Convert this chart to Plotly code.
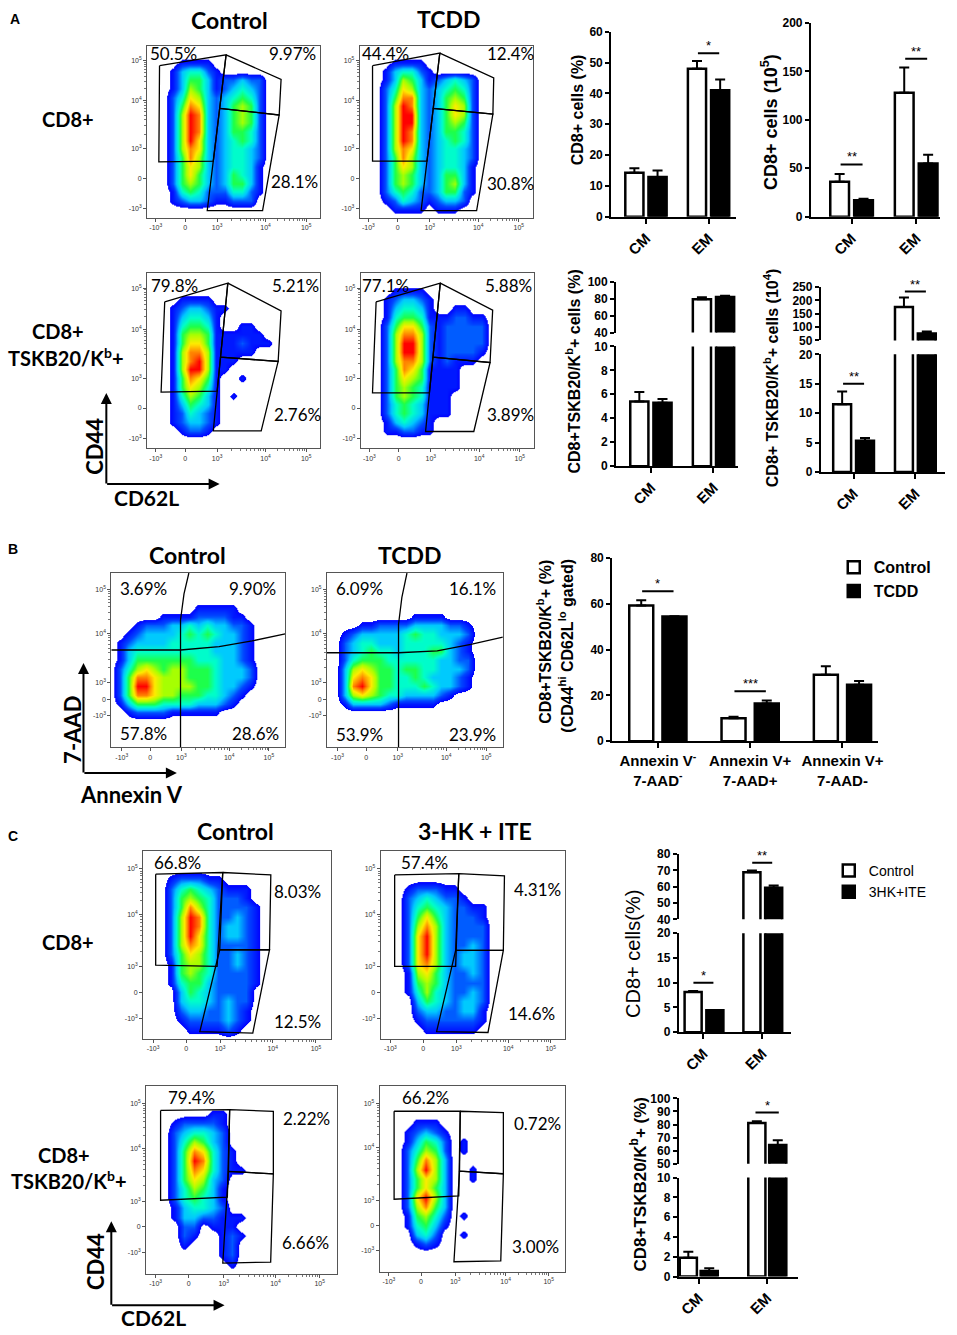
import math
import plotly.graph_objects as go

W, H = 957, 1335
FLOW_FONT = 'Lato'
BAR_FONT = 'Liberation Sans'

# ---------------- flow cytometry: gate percentages ----------------
A_CTRL_CD8_PCT = ['50.5%', '9.97%', '28.1%']
A_TCDD_CD8_PCT = ['44.4%', '12.4%', '30.8%']
A_CTRL_TSKB_PCT = ['79.8%', '5.21%', '2.76%']
A_TCDD_TSKB_PCT = ['77.1%', '5.88%', '3.89%']
B_CTRL_PCT = ['3.69%', '9.90%', '57.8%', '28.6%']
B_TCDD_PCT = ['6.09%', '16.1%', '53.9%', '23.9%']
C_CTRL_CD8_PCT = ['66.8%', '8.03%', '12.5%']
C_HKITE_CD8_PCT = ['57.4%', '4.31%', '14.6%']
C_CTRL_TSKB_PCT = ['79.4%', '2.22%', '6.66%']
C_HKITE_TSKB_PCT = ['66.2%', '0.72%', '3.00%']

FLOW_TICKS = ['-10<sup>3</sup>', '0', '10<sup>3</sup>', '10<sup>4</sup>', '10<sup>5</sup>']
GRID = list(range(0, 101, 5))

# density maps on the 0..100 display grid (step 5), rows from top to bottom, 0 empty .. 9 peak
A1_DENSITY = [
    "000000000000000000000",
    "000000000000000000000",
    "000011110000000000000",
    "000134421000000000000",
    "000135531223220000000",
    "000136531234320000000",
    "000247632345420000000",
    "000258732356520000000",
    "000269832356520000000",
    "000269832356520000000",
    "000269832355420000000",
    "000269732345420000000",
    "000268732344320000000",
    "000258632344320000000",
    "000257632344310000000",
    "000257532354310000000",
    "000256532355310000000",
    "000145422244210000000",
    "000123321122200000000",
    "000000000000000000000",
    "000000000000000000000",
]
A2_DENSITY = [
    "000000000000000000000",
    "000000000000000000000",
    "000011110000000000000",
    "000134421000000000000",
    "000136531234320000000",
    "000247632345420000000",
    "000258832356520000000",
    "000269832357620000000",
    "000269932357620000000",
    "000269932356520000000",
    "000269832355420000000",
    "000269832345420000000",
    "000268732344320000000",
    "000258632344320000000",
    "000257632344310000000",
    "000256532355310000000",
    "000256532356310000000",
    "000245422355210000000",
    "000124321233200000000",
    "000011110111000000000",
    "000000000000000000000",
]
A3_DENSITY = [
    "000000000000000000000",
    "000000000000000000000",
    "000000000000000000000",
    "000011110000000000000",
    "000123321100000000000",
    "000134431000000000000",
    "000145541001100000000",
    "000156651111110000000",
    "000157751112111000000",
    "000168861111100000000",
    "000168961110000000000",
    "000169961100000000000",
    "000158751001000000000",
    "000157641000000000000",
    "000146531010000000000",
    "000135431000000000000",
    "000124321000000000000",
    "000123321000000000000",
    "000012210000000000000",
    "000000000000000000000",
    "000000000000000000000",
]
A4_DENSITY = [
    "000000000000000000000",
    "000000000000000000000",
    "000011110000000000000",
    "000123321000000000000",
    "000134431001100000000",
    "000145541112211000000",
    "000257752122222000000",
    "000268862122222000000",
    "000269962122222000000",
    "000269962122221000000",
    "000268862121110000000",
    "000258751111000000000",
    "000257651111000000000",
    "000256541111000000000",
    "000256541110000000000",
    "000245431110000000000",
    "000245431110000000000",
    "000134321000000000000",
    "000112211000000000000",
    "000000000000000000000",
    "000000000000000000000",
]
B1_DENSITY = [
    "000000000000000000000",
    "000000000000000000000",
    "000000000000000000000",
    "000000000000000000000",
    "000000000011111000000",
    "000000111122221100000",
    "000122233434332210000",
    "001233334545433210000",
    "012333344444333210000",
    "013444444444333210000",
    "013555555544433210000",
    "024676566555433320000",
    "025887666555433320000",
    "025997666655433210000",
    "025887665554432100000",
    "013555444433321000000",
    "001222211111100000000",
    "000000000000000000000",
    "000000000000000000000",
    "000000000000000000000",
    "000000000000000000000",
]
B2_DENSITY = [
    "000000000000000000000",
    "000000000000000000000",
    "000000000000000000000",
    "000000000000000000000",
    "000000000000000000000",
    "000000000011110000000",
    "000011222233332210000",
    "001233333454433320000",
    "002344333444443210000",
    "002345443444553210000",
    "002455544444433220000",
    "003676554554433320000",
    "003787554454333210000",
    "003897554445433210000",
    "003676544333321000000",
    "001333321111100000000",
    "000000000000000000000",
    "000000000000000000000",
    "000000000000000000000",
    "000000000000000000000",
    "000000000000000000000",
]
C1_DENSITY = [
    "000000000000000000000",
    "000000000000000000000",
    "000000000000000000000",
    "000122211000000000000",
    "000245432111000000000",
    "000256542221000000000",
    "000258642222100000000",
    "000269842232100000000",
    "000269842332100000000",
    "000269742332100000000",
    "000268742222100000000",
    "000257642232100000000",
    "000156642232100000000",
    "000156542222100000000",
    "000145532222100000000",
    "000035432222000000000",
    "000034432322000000000",
    "000023322321000000000",
    "000012222321000000000",
    "000001111210000000000",
    "000000000000000000000",
]
C2_DENSITY = [
    "000000000000000000000",
    "000000000000000000000",
    "000000000000000000000",
    "000000000000000000000",
    "000122211000000000000",
    "000234322100000000000",
    "000245432211000000000",
    "000257532221000000000",
    "000268632222000000000",
    "000279632222000000000",
    "000279632232000000000",
    "000279632332000000000",
    "000278632332000000000",
    "000167532232000000000",
    "000156532222000000000",
    "000146432232000000000",
    "000035432332000000000",
    "000023322331000000000",
    "000012222221000000000",
    "000001111110000000000",
    "000000000000000000000",
]
C3_DENSITY = [
    "000000000000000000000",
    "000000000000000000000",
    "000000000000000000000",
    "000000011000000000000",
    "000122221000000000000",
    "000234432000000000000",
    "000246532000000000000",
    "000258742100000000000",
    "000259842100000000000",
    "000258742110000000000",
    "000257632000000000000",
    "000246531000000000000",
    "000245431000000000000",
    "000134432000000000000",
    "000133221110000000000",
    "000022011100000000000",
    "000021001210000000000",
    "000010001200000000000",
    "000000001200000000000",
    "000000000100000000000",
    "000000000000000000000",
]
C4_DENSITY = [
    "000000000000000000000",
    "000000000000000000000",
    "000000000000000000000",
    "000000000000000000000",
    "000011100000000000000",
    "000123210000000000000",
    "000135420100000000000",
    "000246520100000000000",
    "000258630000000000000",
    "000269630010000000000",
    "000257630010000000000",
    "000257530000000000000",
    "000279630000000000000",
    "000268530000000000000",
    "000156420100000000000",
    "000145310000000000000",
    "000034200100000000000",
    "000012100000000000000",
    "000000000000000000000",
    "000000000000000000000",
    "000000000000000000000",
]

# gates in display coordinates
A1_GATES = [
    [(7.2, 88.3), (45.7, 94.6), (38.3, 32.9), (6.8, 32.5)],
    [(45.7, 94.6), (77.5, 80.3), (76.4, 59.7), (42.0, 63.5)],
    [(42.0, 63.5), (76.4, 59.7), (66.8, 4.2), (34.8, 4.2)],
]
A2_GATES = [
    [(7.4, 88.3), (46.3, 95.6), (38.9, 32.9), (7.4, 32.9)],
    [(46.3, 95.6), (77.5, 81.3), (77.0, 60.2), (42.5, 63.5)],
    [(42.5, 63.5), (77.0, 60.2), (67.6, 4.2), (35.5, 4.2)],
]
A3_GATES = [
    [(10.2, 83.6), (46.7, 94.3), (40.5, 32.6), (8.1, 32.1)],
    [(46.7, 94.3), (77.5, 78.5), (75.8, 49.6), (42.5, 52.1)],
    [(42.5, 52.1), (75.8, 49.6), (66.0, 10.0), (38.3, 10.0)],
]
A4_GATES = [
    [(8.9, 83.6), (46.0, 94.3), (39.7, 31.7), (6.8, 31.7)],
    [(46.0, 94.3), (76.3, 78.9), (74.8, 49.0), (41.8, 52.1)],
    [(41.8, 52.1), (74.8, 49.0), (65.4, 9.6), (37.5, 9.6)],
]
B1_GATES = [
    [(39.8, 0), (39.8, 73), (41.8, 88), (44.6, 100)],
    [(0, 55.8), (39.8, 55.8), (62, 57.7), (81, 61), (100, 65)],
]
B2_GATES = [
    [(40.7, 0), (40.7, 70.6), (42.6, 86), (45.5, 100)],
    [(0, 54.2), (40.7, 54.2), (62.7, 55.3), (81.8, 59), (100, 63.2)],
]
C1_GATES = [
    [(6.7, 87.7), (42.4, 88.6), (39.4, 38.7), (6.7, 39.3)],
    [(42.4, 88.6), (68.0, 87.3), (67.3, 47.5), (40.8, 47.5)],
    [(40.8, 47.5), (67.3, 47.5), (58.4, 3.2), (30.2, 4.0)],
]
C2_GATES = [
    [(7.6, 87.3), (42.3, 88.0), (40.6, 38.7), (7.6, 38.7)],
    [(42.3, 88.0), (67.0, 86.8), (66.4, 47.2), (40.6, 47.2)],
    [(40.6, 47.2), (66.4, 47.2), (58.1, 3.5), (30.3, 4.0)],
]
C3_GATES = [
    [(7.6, 86.8), (43.8, 87.2), (42.6, 40.7), (7.6, 39.0)],
    [(43.8, 87.2), (66.7, 86.3), (66.7, 53.0), (43.2, 54.4)],
    [(43.2, 54.4), (66.7, 53.0), (65.3, 6.1), (40.2, 5.6)],
]
C4_GATES = [
    [(7.8, 86.2), (43.4, 86.2), (42.6, 40.7), (7.8, 38.9)],
    [(43.4, 86.2), (66.6, 85.5), (66.6, 52.6), (43.0, 54.0)],
    [(43.0, 54.0), (66.6, 52.6), (65.2, 5.8), (40.0, 5.3)],
]

# ---------------- bar charts (mean, SEM) ----------------
MEM_CATS = ['CM', 'EM']
A_CD8_PCT_CTRL, A_CD8_PCT_CTRL_SEM = [14.3, 48.0], [1.4, 2.5]
A_CD8_PCT_TCDD, A_CD8_PCT_TCDD_SEM = [12.9, 41.0], [2.1, 3.5]
A_CD8_PCT_SIG = [(1, 53.0, '*')]

A_CD8_NUM_CTRL, A_CD8_NUM_CTRL_SEM = [36, 128], [8, 26]
A_CD8_NUM_TCDD, A_CD8_NUM_TCDD_SEM = [17, 55], [1.5, 9]
A_CD8_NUM_SIG = [(0, 54.0, '**'), (1, 163.0, '**')]

A_TSKB_PCT_CTRL, A_TSKB_PCT_CTRL_SEM = [5.4, 79.5], [0.8, 2.5]
A_TSKB_PCT_TCDD, A_TSKB_PCT_TCDD_SEM = [5.3, 82.4], [0.3, 1.2]
A_TSKB_PCT_SIG = []

A_TSKB_NUM_CTRL, A_TSKB_NUM_CTRL_SEM = [11.5, 175], [2.2, 36]
A_TSKB_NUM_TCDD, A_TSKB_NUM_TCDD_SEM = [5.3, 76], [0.5, 8]
A_TSKB_NUM_SIG = [(0, 15.0, '**'), (1, 233.0, '**')]

APOP_CATS = ['Annexin V<sup>-</sup><br>7-AAD<sup>-</sup>', 'Annexin V+<br>7-AAD+', 'Annexin V+<br>7-AAD-']
B_CTRL, B_CTRL_SEM = [59.3, 10.0, 29.0], [2.3, 0.7, 3.8]
B_TCDD, B_TCDD_SEM = [54.5, 16.5, 24.7], [0.1, 1.3, 1.6]
B_SIG = [(0, 65.5, '*'), (1, 21.8, '***')]

C_CD8_CTRL, C_CD8_CTRL_SEM = [8.1, 68.9], [0.2, 1.0]
C_CD8_HKITE, C_CD8_HKITE_SEM = [4.4, 59.4], [0.05, 1.3]
C_CD8_SIG = [(0, 10.0, '*'), (1, 74.6, '**')]

C_TSKB_CTRL, C_TSKB_CTRL_SEM = [1.9, 81.2], [0.6, 1.4]
C_TSKB_HKITE, C_TSKB_HKITE_SEM = [0.55, 64.4], [0.3, 3.5]
C_TSKB_SIG = [(1, 89.2, '*')]

JET = [[0, 'white'], [0.065, 'white'], [0.0651, 'rgb(0,0,255)'], [0.2, 'rgb(0,70,255)'],
       [0.33, 'rgb(0,200,255)'], [0.45, 'rgb(0,255,200)'], [0.56, 'rgb(30,255,70)'],
       [0.67, 'rgb(170,255,0)'], [0.78, 'rgb(255,235,0)'], [0.89, 'rgb(255,130,0)'],
       [1, 'rgb(255,0,0)']]

fig = go.Figure()
axes = {}
notes = []


def key(n):
    return '' if n == 1 else str(n)


def dom_x(x0, x1):
    return [x0 / W, x1 / W]


def dom_y(y0, y1):
    return [1 - y1 / H, 1 - y0 / H]


def density(rows):
    rows = [r.ljust(21, '0')[:21] for r in rows]
    return [[int(c) for c in r] for r in rows[::-1]]


def decade_minors(ticks):
    # small log-style ticks between the 10^3, 10^4 and 10^5 marks
    out = []
    for a, b in ((ticks[2], ticks[3]), (ticks[3], ticks[4])):
        out += [a + (b - a) * math.log10(m) for m in range(2, 10)]
    return out


def flow_plot(n, frame, rows, gates, closed, pct, spots, xt, yt):
    k = key(n)
    x0, x1, y0, y1 = frame
    common = dict(range=[0, 100], showline=True, linecolor='#555', linewidth=1, mirror=True,
                  ticks='outside', ticklen=3, tickcolor='#555', ticktext=FLOW_TICKS,
                  tickfont=dict(family=BAR_FONT, size=7, color='#333'),
                  showgrid=False, zeroline=False, fixedrange=True)
    axes['xaxis' + k] = dict(common, domain=dom_x(x0, x1), anchor='y' + k, tickvals=xt,
                             minor=dict(tickvals=decade_minors(xt), ticklen=2, tickcolor='#777'))
    axes['yaxis' + k] = dict(common, domain=dom_y(y0, y1), anchor='x' + k, tickvals=yt,
                             minor=dict(tickvals=decade_minors(yt), ticklen=2, tickcolor='#777'))
    fig.add_trace(go.Heatmap(x=GRID, y=GRID, z=density(rows), zmin=0, zmax=9, colorscale=JET,
                             zsmooth='best', showscale=False, hoverinfo='skip',
                             xaxis='x' + k, yaxis='y' + k))
    for g in gates:
        pts = list(g) + ([g[0]] if closed else [])
        fig.add_trace(go.Scatter(x=[p[0] for p in pts], y=[p[1] for p in pts], mode='lines',
                                 line=dict(color='black', width=1.3), hoverinfo='skip',
                                 showlegend=False, xaxis='x' + k, yaxis='y' + k))
    for text, (sx, sy) in zip(pct, spots):
        notes.append(dict(text=text, x=sx, y=sy, xref='x%s domain' % k, yref='y%s domain' % k,
                          xanchor='center', yanchor='middle', showarrow=False,
                          font=dict(family=FLOW_FONT, size=17, color='black')))


def bar_chart(n0, xpx, segs, xrange, ticktext, tickangle, ctrl, ctrl_sem, trt, trt_sem, sigs,
              offs=(-0.33, 0.04, 0.29), legend=None, names=('Control', 'TCDD'), cat_size=15):
    xs = list(range(len(ctrl)))
    for i, (top, bot, yr, yt) in enumerate(segs):
        k = key(n0 + i)
        last = i == len(segs) - 1
        axes['xaxis' + k] = dict(domain=dom_x(*xpx), anchor='y' + k, range=xrange,
                                 showline=last, linecolor='black', linewidth=2, showgrid=False,
                                 zeroline=False, ticks='outside' if last else '', ticklen=5,
                                 tickwidth=2, tickcolor='black', tickvals=xs, ticktext=ticktext,
                                 tickangle=tickangle, showticklabels=last, fixedrange=True,
                                 tickfont=dict(family=BAR_FONT, size=cat_size, color='black',
                                               weight='bold'))
        axes['yaxis' + k] = dict(domain=dom_y(top, bot), anchor='x' + k, range=yr, tickvals=yt,
                                 showline=True, linecolor='black', linewidth=2, showgrid=False,
                                 zeroline=False, ticks='outside', ticklen=4, tickwidth=2,
                                 tickcolor='black', fixedrange=True,
                                 tickfont=dict(family=BAR_FONT, size=12, color='black',
                                               weight='bold'))
        series = ((ctrl, ctrl_sem, 'white', offs[0]), (trt, trt_sem, 'black', offs[1]))
        for j, (vals, sem, fill, off) in enumerate(series):
            fig.add_trace(go.Bar(
                x=xs, y=vals, offset=off, width=offs[2], name=names[j],
                marker=dict(color=fill, line=dict(color='black', width=2.5)),
                error_y=dict(type='data', array=sem, arrayminus=[0] * len(sem), symmetric=False,
                             color='black', thickness=2, width=5),
                showlegend=bool(legend) and last, legend=legend or 'legend', hoverinfo='skip',
                xaxis='x' + k, yaxis='y' + k))
        for gx, gy, star in sigs:
            if yr[0] <= gy <= yr[1]:
                fig.add_trace(go.Scatter(x=[gx - 0.17, gx + 0.17], y=[gy, gy], mode='lines',
                                         line=dict(color='black', width=2), showlegend=False,
                                         hoverinfo='skip', xaxis='x' + k, yaxis='y' + k))
                notes.append(dict(text=star, x=gx, y=gy, xref='x' + k, yref='y' + k,
                                  xanchor='center', yanchor='bottom', showarrow=False, yshift=-2,
                                  font=dict(family=BAR_FONT, size=13, color='black')))


def label(text, x, y, size, bold=True, family=FLOW_FONT, angle=0):
    notes.append(dict(text=text, x=x / W, y=1 - y / H, xref='paper', yref='paper',
                      showarrow=False, textangle=angle, xanchor='center', yanchor='middle',
                      font=dict(family=family, size=size, color='black',
                                weight='bold' if bold else 'normal')))


def arrow(x, y, ax, ay):
    notes.append(dict(x=x / W, y=1 - y / H, xref='paper', yref='paper', ax=ax, ay=ay, text='',
                      showarrow=True, arrowhead=2, arrowsize=1.1, arrowwidth=2,
                      arrowcolor='black'))


# ---------------- flow panels ----------------
AX = [5, 22, 40.5, 68.5, 92]
AY = [5.5, 23, 40, 68, 91.5]
flow_plot(1, (147, 321, 39, 213), A1_DENSITY, A1_GATES, True, A_CTRL_CD8_PCT,
          [(0.15, 0.955), (0.84, 0.955), (0.85, 0.21)], AX, AY)
flow_plot(2, (361, 535, 39, 213), A2_DENSITY, A2_GATES, True, A_TCDD_CD8_PCT,
          [(0.15, 0.955), (0.87, 0.955), (0.87, 0.20)], AX, AY)
flow_plot(3, (147, 321, 269, 446), A3_DENSITY, A3_GATES, True, A_CTRL_TSKB_PCT,
          [(0.16, 0.93), (0.86, 0.93), (0.87, 0.194)], AX, AY)
flow_plot(4, (362, 536, 269, 446), A4_DENSITY, A4_GATES, True, A_TCDD_TSKB_PCT,
          [(0.144, 0.93), (0.856, 0.93), (0.866, 0.194)], AX, AY)

BX = [6, 22.3, 40.3, 67.8, 90.6]
BY = [18, 27.5, 37, 65.5, 90.5]
flow_plot(5, (111, 286, 572, 748), B1_DENSITY, B1_GATES, False, B_CTRL_PCT,
          [(0.187, 0.91), (0.81, 0.91), (0.187, 0.076), (0.83, 0.076)], BX, BY)
flow_plot(6, (328, 505, 572, 748), B2_DENSITY, B2_GATES, False, B_TCDD_PCT,
          [(0.184, 0.91), (0.828, 0.91), (0.184, 0.075), (0.828, 0.075)], BX, BY)

CX1 = [5.3, 23, 41, 69, 92]
CY1 = [11, 24.6, 38.5, 66.2, 90.5]
flow_plot(7, (143, 332, 853, 1043), C1_DENSITY, C1_GATES, True, C_CTRL_CD8_PCT,
          [(0.184, 0.938), (0.822, 0.785), (0.822, 0.093)], CX1, CY1)
flow_plot(8, (382, 568, 853, 1043), C2_DENSITY, C2_GATES, True, C_HKITE_CD8_PCT,
          [(0.24, 0.938), (0.85, 0.798), (0.819, 0.137)], CX1, CY1)
CX2 = [5, 22.3, 40.7, 67.8, 91]
CY2 = [11.3, 24.8, 38.3, 66.5, 90.3]
flow_plot(9, (146, 338, 1090, 1280), C3_DENSITY, C3_GATES, True, C_CTRL_TSKB_PCT,
          [(0.24, 0.939), (0.843, 0.825), (0.833, 0.167)], CX2, CY2)
flow_plot(10, (381, 568, 1090, 1278), C4_DENSITY, C4_GATES, True, C_HKITE_TSKB_PCT,
          [(0.246, 0.938), (0.85, 0.796), (0.84, 0.133)], CX2, CY2)

# ---------------- bar charts ----------------
bar_chart(11, (614, 740), [(25, 212, [0, 60], [0, 10, 20, 30, 40, 50, 60])], [-0.556, 1.444],
          MEM_CATS, -45, A_CD8_PCT_CTRL, A_CD8_PCT_CTRL_SEM, A_CD8_PCT_TCDD, A_CD8_PCT_TCDD_SEM,
          A_CD8_PCT_SIG)
bar_chart(12, (815, 945), [(16, 212, [0, 200], [0, 50, 100, 150, 200])], [-0.63, 1.37],
          MEM_CATS, -45, A_CD8_NUM_CTRL, A_CD8_NUM_CTRL_SEM, A_CD8_NUM_TCDD, A_CD8_NUM_TCDD_SEM,
          A_CD8_NUM_SIG)
bar_chart(13, (619, 742), [(278, 329, [40, 100], [40, 60, 80, 100]),
                           (343, 464, [0, 10], [0, 2, 4, 6, 8, 10])], [-0.556, 1.397],
          MEM_CATS, -45, A_TSKB_PCT_CTRL, A_TSKB_PCT_CTRL_SEM, A_TSKB_PCT_TCDD,
          A_TSKB_PCT_TCDD_SEM, A_TSKB_PCT_SIG)
bar_chart(15, (825, 950), [(283, 337, [50, 250], [50, 100, 150, 200, 250]),
                           (351, 470, [0, 20], [0, 5, 10, 15, 20])], [-0.53, 1.48],
          MEM_CATS, -45, A_TSKB_NUM_CTRL, A_TSKB_NUM_CTRL_SEM, A_TSKB_NUM_TCDD,
          A_TSKB_NUM_TCDD_SEM, A_TSKB_NUM_SIG)
bar_chart(17, (615, 883), [(557, 742, [0, 80], [0, 20, 40, 60, 80])], [-0.495, 2.39],
          APOP_CATS, 0, B_CTRL, B_CTRL_SEM, B_TCDD, B_TCDD_SEM, B_SIG,
          offs=(-0.31, 0.05, 0.26), legend='legend', names=('Control', 'TCDD'))
bar_chart(18, (682, 795), [(856, 922, [40, 80], [40, 50, 60, 70, 80]),
                           (936, 1036, [0, 20], [0, 5, 10, 15, 20])], [-0.42, 1.49],
          MEM_CATS, -45, C_CD8_CTRL, C_CD8_CTRL_SEM, C_CD8_HKITE, C_CD8_HKITE_SEM, C_CD8_SIG,
          offs=(-0.32, 0.05, 0.29), legend='legend2', names=('Control', '3HK+ITE'))
bar_chart(20, (682, 802), [(1103, 1169, [50, 100], [50, 60, 70, 80, 90, 100]),
                           (1183, 1283, [0, 10], [0, 2, 4, 6, 8, 10])], [-0.29, 1.45],
          MEM_CATS, -45, C_TSKB_CTRL, C_TSKB_CTRL_SEM, C_TSKB_HKITE, C_TSKB_HKITE_SEM,
          C_TSKB_SIG, offs=(-0.275, 0.03, 0.25))

# ---------------- text ----------------
for letter, x, y in (('A', 14, 12), ('B', 12, 548), ('C', 12, 838)):
    label(letter, x, y, 14, family=BAR_FONT)
label('Control', 230, 13, 23)
label('TCDD', 450, 12, 23)
label('Control', 188, 554, 23)
label('TCDD', 411, 554, 23)
label('Control', 236, 833, 23)
label('3-HK + ITE', 477, 833, 23)
label('CD8+', 67, 113, 20)
label('CD8+', 57, 327, 20)
label('TSKB20/K<sup>b</sup>+', 65, 354, 20)
label('CD8+', 67, 945, 20)
label('CD8+', 63, 1160, 20)
label('TSKB20/K<sup>b</sup>+', 68, 1185, 20)
label('CD44', 94, 444, 22, angle=-90)
label('CD62L', 146, 496, 21)
label('7-AAD', 72, 731, 22, angle=-90)
label('Annexin V', 131, 796, 22)
label('CD44', 95, 1268, 22, angle=-90)
label('CD62L', 153, 1324, 21)
arrow(106, 390, 0, 92)
arrow(220, 482, -114, 0)
arrow(83, 663, 0, 111)
arrow(177, 774, -94, 0)
arrow(111, 1227, 0, 85)
arrow(225, 1312, -114, 0)

label('CD8+ cells (%)', 581, 104, 16, family=BAR_FONT, angle=-90)
label('CD8+ cells (10<sup>5</sup>)', 774, 116, 18, family=BAR_FONT, angle=-90)
label('CD8+TSKB20/K<sup>b</sup>+ cells (%)', 576, 368, 16, family=BAR_FONT, angle=-90)
label('CD8+ TSKB20/K<sup>b</sup>+ cells (10<sup>4</sup>)', 775, 375, 16, family=BAR_FONT, angle=-90)
label('CD8+TSKB20/K<sup>b</sup>+ (%)', 547, 642, 16, family=BAR_FONT, angle=-90)
label('(CD44<sup>hi</sup> CD62L<sup>lo</sup> gated)', 569, 645, 16, family=BAR_FONT, angle=-90)
label('CD8+ cells(%)', 636, 957, 20, bold=False, family=BAR_FONT, angle=-90)
label('CD8+TSKB20/K<sup>b</sup>+ (%)', 641, 1190, 17, family=BAR_FONT, angle=-90)

fig.update_layout(
    width=W, height=H, margin=dict(l=0, r=0, t=0, b=0),
    paper_bgcolor='white', plot_bgcolor='white', barmode='overlay',
    annotations=notes, showlegend=True,
    legend=dict(x=838 / W, y=1 - 549 / H, xanchor='left', yanchor='top',
                bgcolor='rgba(0,0,0,0)', itemwidth=30, tracegroupgap=0,
                font=dict(family=BAR_FONT, size=16, color='black', weight='bold')),
    legend2=dict(x=833 / W, y=1 - 857 / H, xanchor='left', yanchor='top',
                 bgcolor='rgba(0,0,0,0)', itemwidth=30, tracegroupgap=0,
                 font=dict(family=BAR_FONT, size=14, color='black')),
    **axes,
)

# the page body has a default margin; drop it so the figure sits at the window corner
fig.write_html("out.html", config={'displayModeBar': False},
               post_script="document.body.style.margin='0';")
